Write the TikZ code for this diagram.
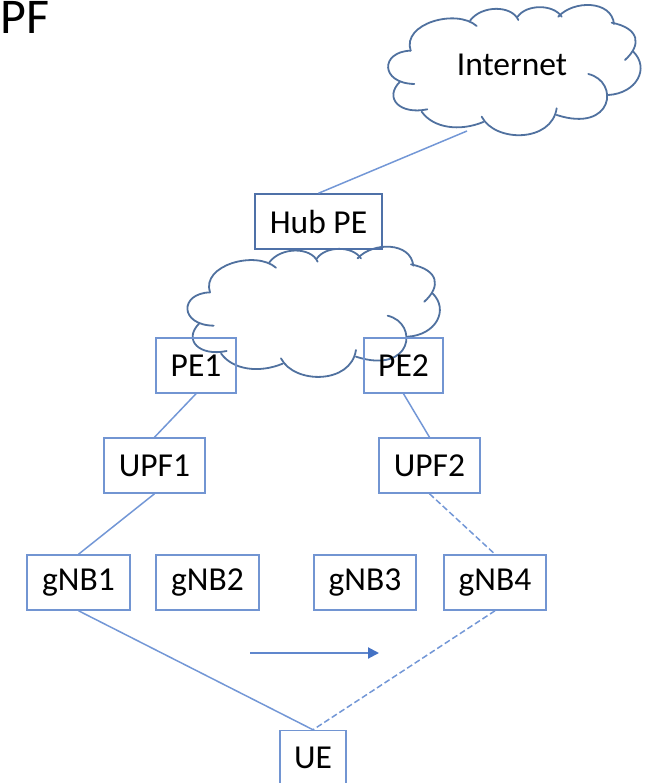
\documentclass[tikz,border=0pt]{standalone}
\usepackage{fontspec}
\setmainfont{Carlito}
\usetikzlibrary{arrows.meta}
\definecolor{boxblue}{HTML}{7295D2}
\definecolor{hubblue}{HTML}{4F71A8}
\definecolor{cloudblue}{HTML}{50719F}
\definecolor{linkblue}{HTML}{7397D6}
\definecolor{arrowblue}{HTML}{4472C4}
\tikzset{
  netbox/.style={draw=boxblue,line width=1.5pt,minimum height=55pt,inner sep=0pt,font=\fontsize{33.5}{35}\selectfont,text=black},
  link/.style={draw=linkblue,line width=1.5pt},
  cloudline/.style={draw=cloudblue,line width=1.8pt,line cap=round},
  cloudshape/.pic={
    \begin{scope}[x=0.3333pt,y=0.3333pt]
    \draw[cloudline] (122,152) .. controls (95,70) and (260,25) .. (320,78);
    \draw[cloudline] (300,62) .. controls (335,15) and (425,15) .. (445,60);
    \draw[cloudline] (443,50) .. controls (470,12) and (550,12) .. (575,50);
    \draw[cloudline] (565,50) .. controls (610,0) and (725,0) .. (732,72);
    \draw[cloudline] (725,68) .. controls (810,85) and (815,135) .. (765,180);
    \draw[cloudline] (790,155) .. controls (840,205) and (800,280) .. (715,285);
    \draw[cloudline] (655,222) .. controls (750,245) and (730,400) .. (560,345);
    \draw[cloudline] (560,325) .. controls (545,428) and (375,428) .. (335,350);
    \draw[cloudline] (340,366) .. controls (270,395) and (190,385) .. (155,335);
    \draw[cloudline] (172,328) .. controls (90,345) and (40,295) .. (90,245);
    \draw[cloudline] (133,252) .. controls (30,250) and (30,155) .. (122,152);
    \end{scope}
  }
}
\begin{document}
\begin{tikzpicture}[x=1pt,y=-1pt]
\useasboundingbox (0,0) rectangle (654,783);
\pic[yscale=-1] at (370,0) {cloudshape};
\pic[yscale=-1] at (169.3,241.7) {cloudshape};
\node[font=\fontsize{33.5}{35}\selectfont,text=black] (internet) at (512,65) {Internet};
\node[anchor=base west,inner sep=0pt,font=\fontsize{50}{52}\selectfont,text=black] (pf) at (0,34) {PF};
\node[netbox,draw=hubblue,minimum width=127pt] (hub) at (318.5,221.5) {Hub PE};
\node[netbox,minimum width=80pt] (pe1) at (196,365.5) {PE1};
\node[netbox,minimum width=79pt] (pe2) at (403.5,365.5) {PE2};
\node[netbox,minimum width=101pt] (upf1) at (154.5,465.5) {UPF1};
\node[netbox,minimum width=101pt] (upf2) at (429.5,465.5) {UPF2};
\node[netbox,minimum width=103pt] (gnb1) at (78.5,582.5) {gNB1};
\node[netbox,minimum width=103pt] (gnb2) at (207.5,582.5) {gNB2};
\node[netbox,minimum width=102pt] (gnb3) at (365,582.5) {gNB3};
\node[netbox,minimum width=102pt] (gnb4) at (495,582.5) {gNB4};
\node[netbox,minimum width=66pt] (ue) at (313,758) {UE};
\coordinate (inetfoot) at (467,131);
\coordinate (arrowstart) at (250,653);
\coordinate (arrowend) at (379,653);
\draw[link] (inetfoot) -- (hub.north);
\draw[link] (pe1.south) -- (upf1.north);
\draw[link] (pe2.south) -- (upf2.north);
\draw[link] (upf1.south) -- (gnb1.north);
\draw[link,dash pattern=on 6pt off 3pt] (upf2.south) -- (gnb4.north);
\draw[link] (gnb1.south) -- (ue.north);
\draw[link,dash pattern=on 6pt off 3pt] (gnb4.south) -- (ue.north);
\draw[draw=arrowblue!85!white,line width=2pt,-{Triangle[length=11pt,width=11pt,color=arrowblue]}] (arrowstart) -- (arrowend);
\end{tikzpicture}
\end{document}
